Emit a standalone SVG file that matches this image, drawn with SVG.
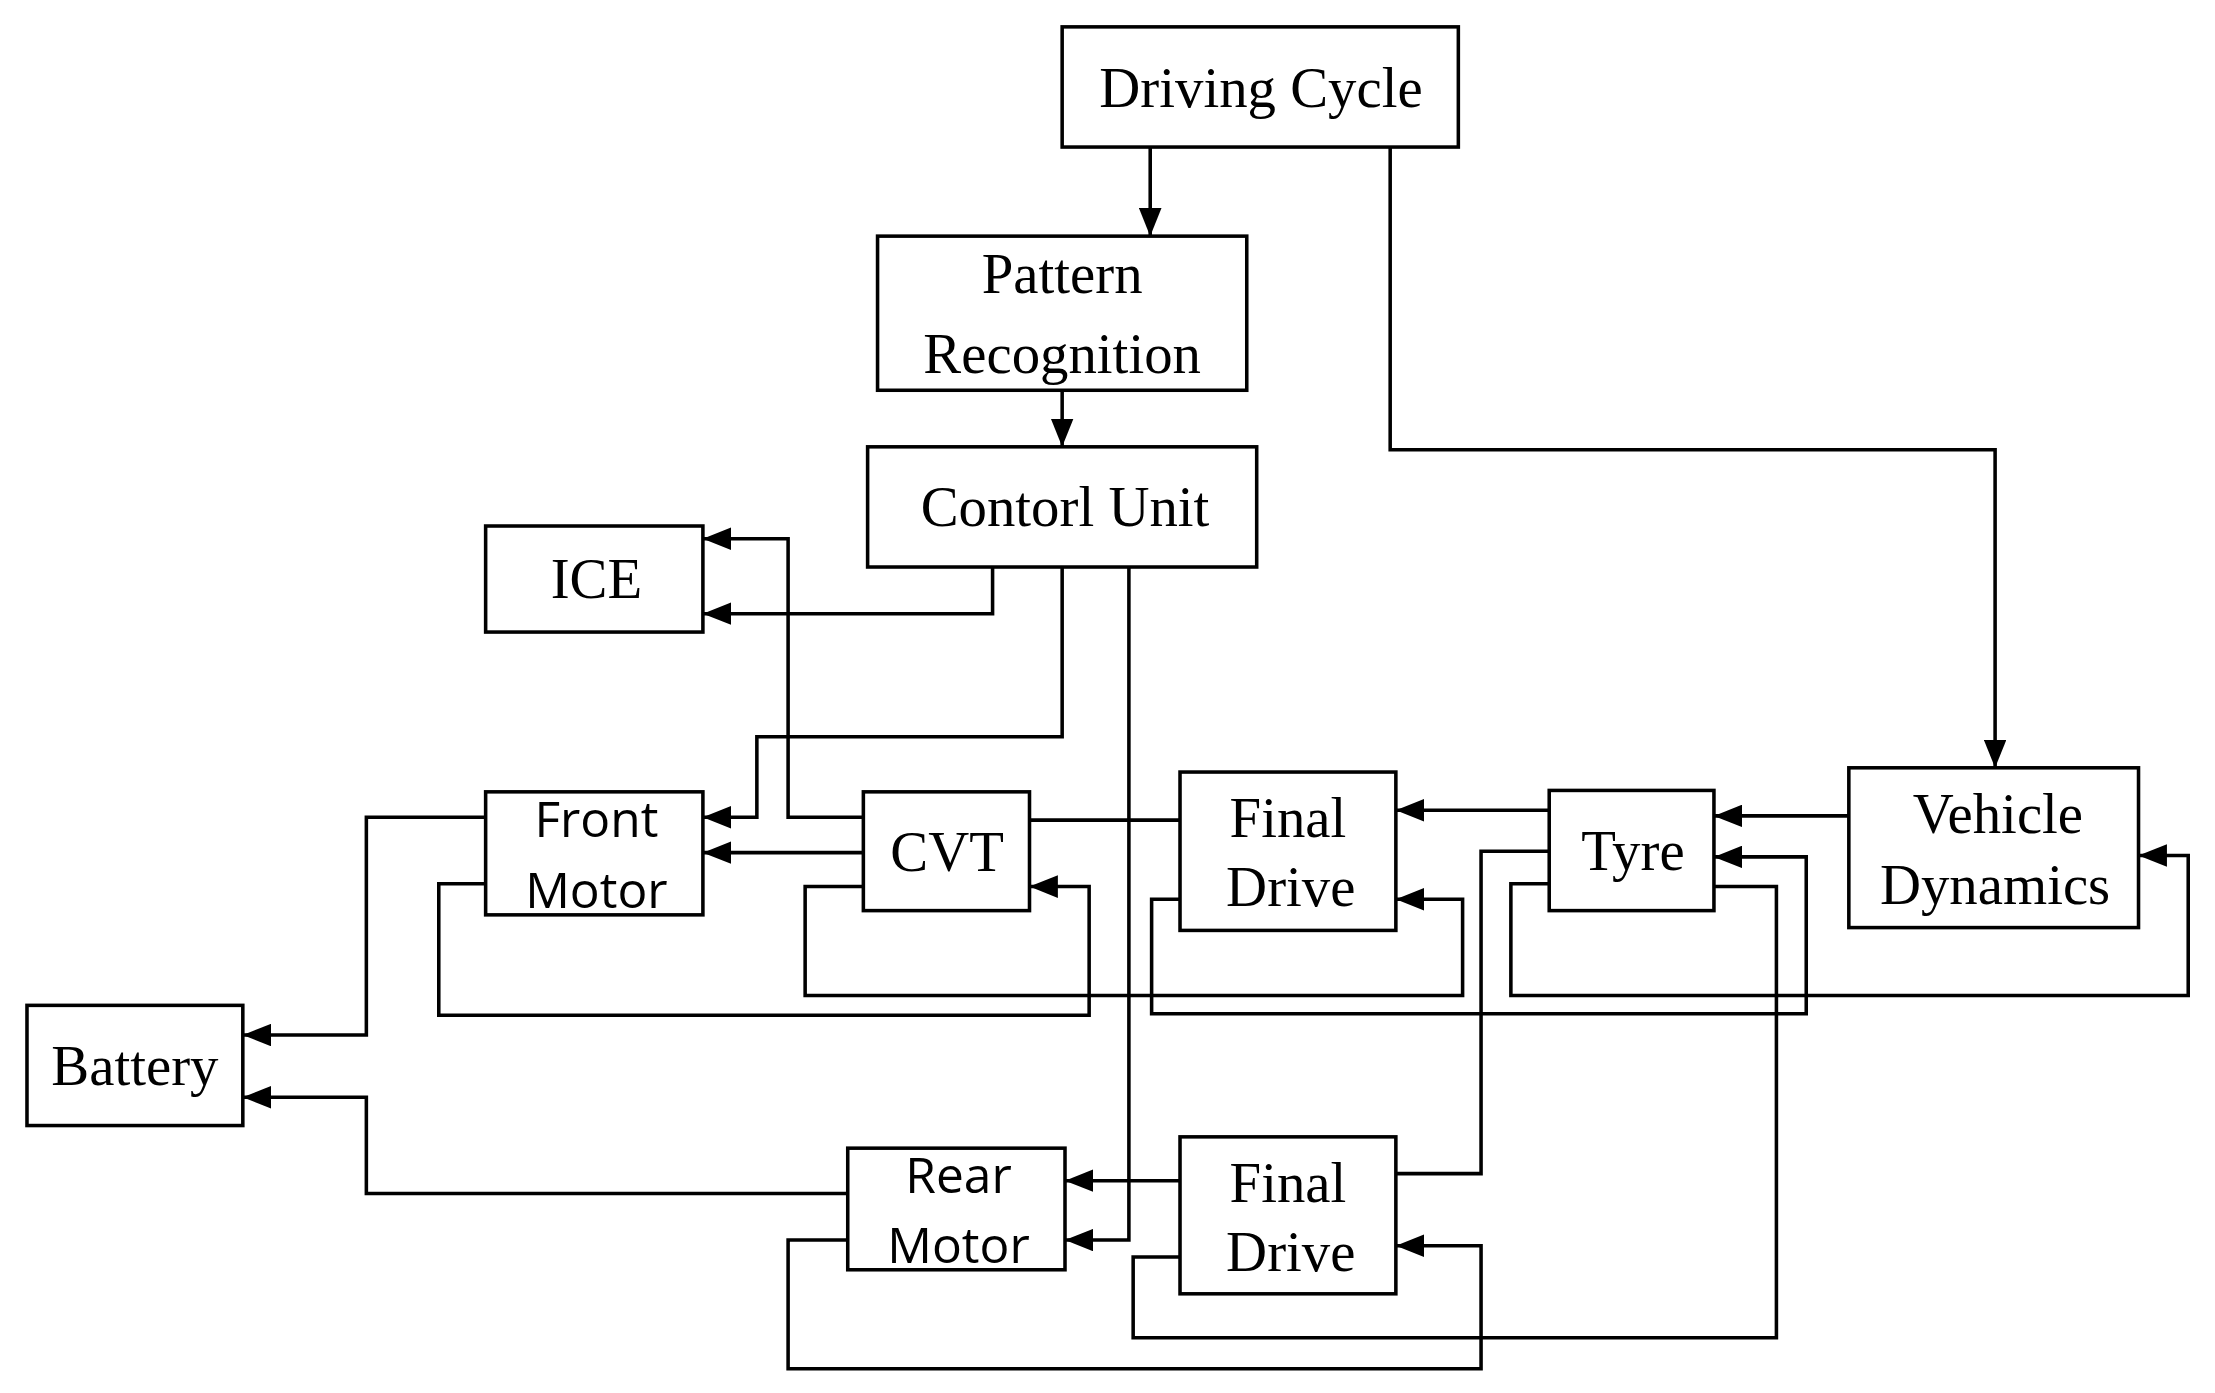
<svg xmlns="http://www.w3.org/2000/svg" width="2215" height="1393" viewBox="0 0 2215 1393">
<style>
.b{fill:#fff;stroke:#000;stroke-width:2.5}
.s{font-family:"Liberation Serif",serif;font-size:40px;text-anchor:middle}
.n{font-family:"Open Sans","Liberation Sans",sans-serif;font-size:35px;text-anchor:middle}
#conn path{fill:none;stroke:#000;stroke-width:2.5}
.a{marker-end:url(#ah)}
</style>
<defs><marker id="ah" markerUnits="userSpaceOnUse" markerWidth="22" markerHeight="16" refX="20" refY="8" orient="auto"><path d="M0,0L20,8L0,16Z" fill="#000"/></marker></defs>
<rect width="2215" height="1393" fill="#fff"/>
<g transform="scale(1.42,1.414)">
<g id="conn">
<path class="a" d="M810,104V167"/>
<path class="a" d="M748,276V316"/>
<path class="a" d="M979,104V318H1405V543"/>
<path class="a" d="M699,401V434H495"/>
<path class="a" d="M608,578H555V381H495"/>
<path class="a" d="M748,401V521H533V578H495"/>
<path class="a" d="M608,603H495"/>
<path class="a" d="M795,401V877H750"/>
<path class="a" d="M831,835H750"/>
<path class="a" d="M342,578H258V732H171"/>
<path class="a" d="M597,844H258V776H171"/>
<path class="a" d="M342,625H309V718H767V627H725"/>
<path d="M725,580H831"/>
<path class="a" d="M608,627H567V704H1030V636H983"/>
<path class="a" d="M1091,573H983"/>
<path class="a" d="M1302,577H1207"/>
<path d="M1091,602H1043V830H983"/>
<path class="a" d="M831,636H811V717H1272V606H1207"/>
<path class="a" d="M1091,625H1064V704H1541V605H1506"/>
<path d="M831,889H798V946H1251V627H1207"/>
<path class="a" d="M597,877H555V968H1043V881H983"/>
</g>
<g id="driving"><rect class="b" x="748" y="19" width="279" height="85"/><text class="s" x="888" y="76">Driving Cycle</text></g>
<g id="pattern"><rect class="b" x="618" y="167" width="260" height="109"/><text class="s" x="748" y="207">Pattern</text><text class="s" x="748" y="264">Recognition</text></g>
<g id="control"><rect class="b" x="611" y="316" width="274" height="85"/><text class="s" x="750" y="372">Contorl Unit</text></g>
<g id="ice"><rect class="b" x="342" y="372" width="153" height="75"/><text class="s" x="420" y="423">ICE</text></g>
<g id="front"><rect class="b" x="342" y="560" width="153" height="87"/><text class="n" x="420" y="592">Front</text><text class="n" x="420" y="642">Motor</text></g>
<g id="cvt"><rect class="b" x="608" y="560" width="117" height="84"/><text class="s" x="667" y="616">CVT</text></g>
<g id="fd1"><rect class="b" x="831" y="546" width="152" height="112"/><text class="s" x="907" y="592">Final</text><text class="s" x="909" y="641">Drive</text></g>
<g id="tyre"><rect class="b" x="1091" y="559" width="116" height="85"/><text class="s" x="1150" y="615">Tyre</text></g>
<g id="vd"><rect class="b" x="1302" y="543" width="204" height="113"/><text class="s" x="1407" y="589">Vehicle</text><text class="s" x="1405" y="639">Dynamics</text></g>
<g id="battery"><rect class="b" x="19" y="711" width="152" height="85"/><text class="s" x="95" y="767">Battery</text></g>
<g id="rear"><rect class="b" x="597" y="812" width="153" height="86"/><text class="n" x="675" y="844">Rear</text><text class="n" x="675" y="893">Motor</text></g>
<g id="fd2"><rect class="b" x="831" y="804" width="152" height="111"/><text class="s" x="907" y="850">Final</text><text class="s" x="909" y="899">Drive</text></g>
</g>
</svg>
